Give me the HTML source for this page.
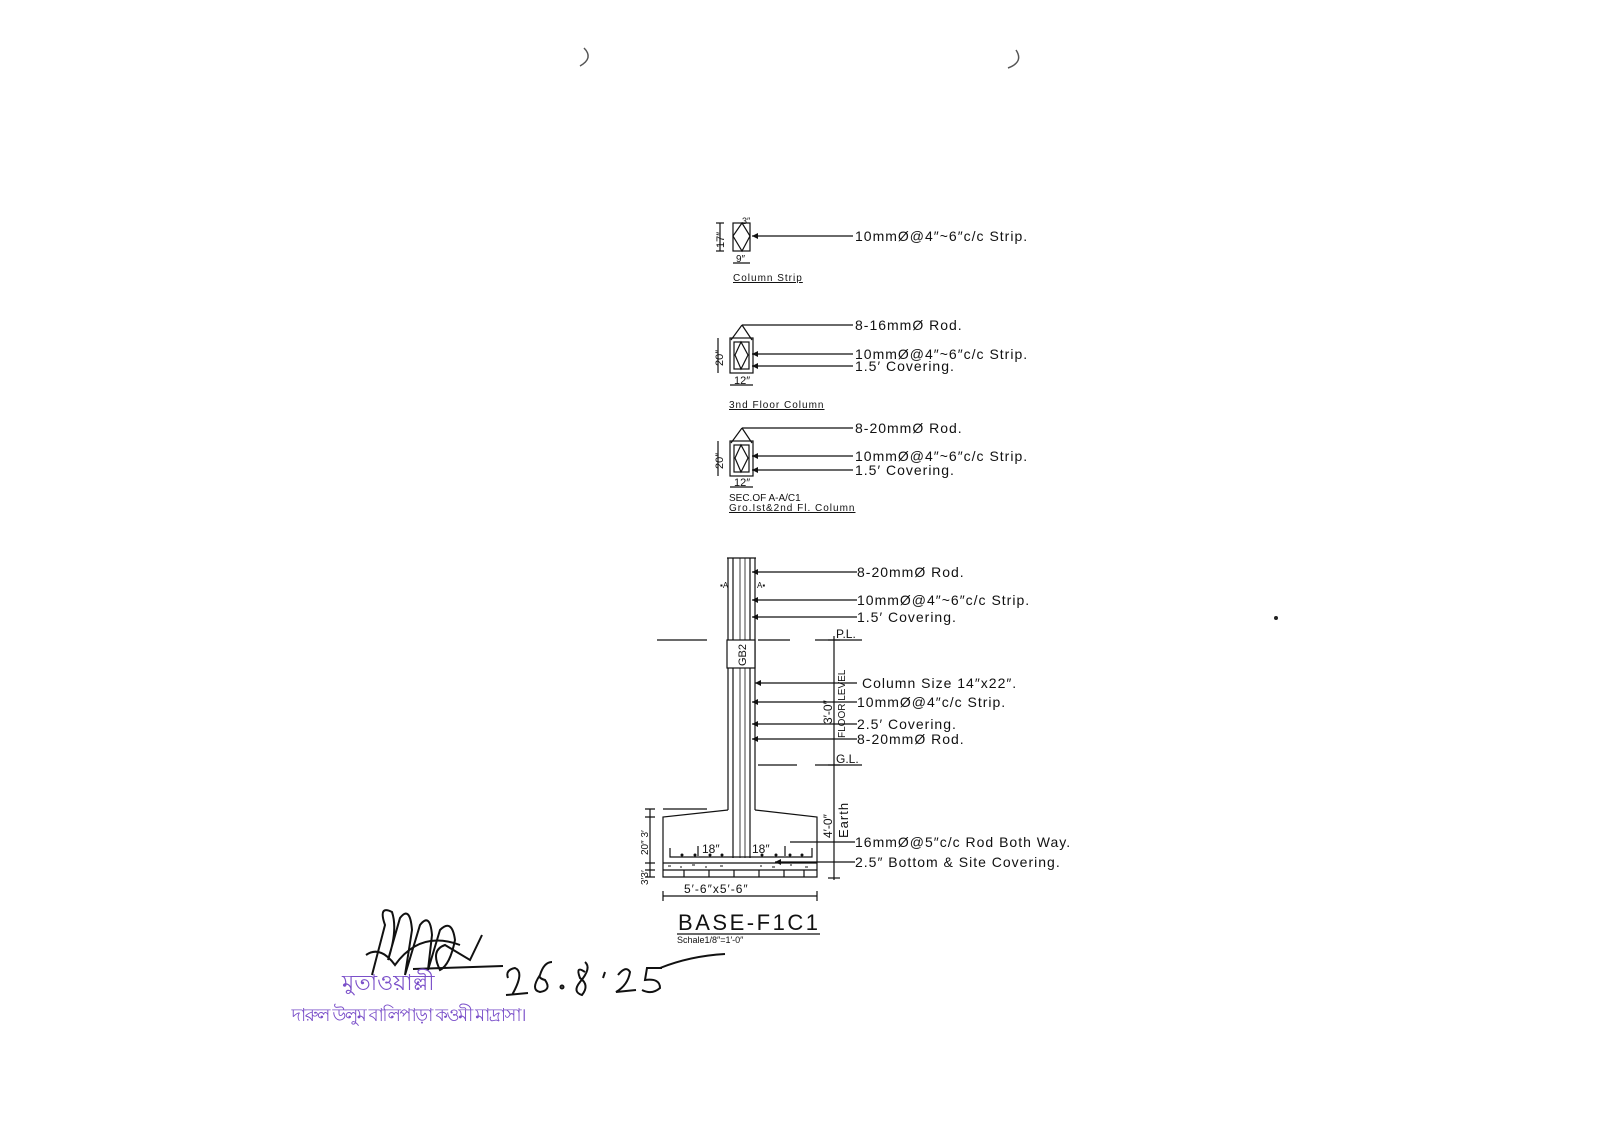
<!DOCTYPE html>
<html><head><meta charset="utf-8"><style>
html,body{margin:0;padding:0;background:#fff;}
svg{display:block;}
text{font-family:"Liberation Sans",sans-serif;fill:#111;}
.lb{letter-spacing:1px;}
</style></head><body>
<svg width="1600" height="1131" viewBox="0 0 1600 1131" xmlns="http://www.w3.org/2000/svg">
<defs>
<marker id="ar" viewBox="0 0 10 10" refX="0" refY="5" markerWidth="9" markerHeight="5" orient="auto"><path d="M0,5 L10,0 L10,10 Z" fill="#111"/></marker>
</defs>
<rect width="1600" height="1131" fill="#fff"/>
<path d="M584,48 Q594,58 580,66" stroke="#555" fill="none" stroke-width="1.5"/>
<path d="M1016,50 Q1024,62 1008,68" stroke="#555" fill="none" stroke-width="1.5"/>
<circle cx="1276" cy="618" r="2" fill="#222"/>
<g stroke="#111" stroke-width="1.2" fill="none">
<rect x="733" y="223" width="17" height="28"/>
<path d="M742,223 L733,236 L742,251 L750,236 Z"/>
<line x1="720" y1="223" x2="720" y2="251"/><line x1="716" y1="223" x2="724" y2="223"/><line x1="716" y1="251" x2="724" y2="251"/>
<line x1="733" y1="263" x2="750" y2="263"/>
<line x1="752" y1="236" x2="853" y2="236" marker-start="url(#ar)"/>
<rect x="730" y="338" width="23" height="35"/>
<rect x="734" y="342" width="15" height="27"/>
<path d="M741,342 L735,355 L741,369 L748,355 Z"/>
<path d="M742,325 L731,340 M742,325 L752,340 M742,325 L853,325"/>
<line x1="718" y1="338" x2="718" y2="373"/>
<line x1="730" y1="385" x2="753" y2="385"/>
<line x1="752" y1="354" x2="853" y2="354" marker-start="url(#ar)"/>
<line x1="752" y1="366" x2="853" y2="366" marker-start="url(#ar)"/>
<rect x="730" y="441" width="23" height="35"/>
<rect x="734" y="445" width="15" height="27"/>
<path d="M741,445 L735,458 L741,472 L748,458 Z"/>
<path d="M742,428 L731,443 M742,428 L752,443 M742,428 L853,428"/>
<line x1="718" y1="441" x2="718" y2="476"/>
<line x1="730" y1="487" x2="753" y2="487"/>
<line x1="752" y1="456" x2="853" y2="456" marker-start="url(#ar)"/>
<line x1="752" y1="470" x2="853" y2="470" marker-start="url(#ar)"/>
<line x1="727" y1="558" x2="756" y2="558"/>
<line x1="728" y1="558" x2="728" y2="810"/>
<line x1="755" y1="558" x2="755" y2="810"/>
<line x1="733" y1="558" x2="733" y2="858"/>
<line x1="750" y1="558" x2="750" y2="858"/>
<line x1="740" y1="558" x2="740" y2="858" stroke-width="0.8"/>
<line x1="745" y1="558" x2="745" y2="858" stroke-width="0.8"/>
<rect x="727" y="640" width="28" height="28" fill="#fff"/>
<line x1="752" y1="572" x2="857" y2="572" marker-start="url(#ar)"/>
<line x1="752" y1="600" x2="857" y2="600" marker-start="url(#ar)"/>
<line x1="752" y1="617" x2="857" y2="617" marker-start="url(#ar)"/>
<line x1="657" y1="640" x2="707" y2="640"/><line x1="758" y1="640" x2="790" y2="640"/><line x1="815" y1="640" x2="862" y2="640"/>
<line x1="834" y1="636" x2="834" y2="880"/>
<line x1="828" y1="640" x2="840" y2="640"/><line x1="828" y1="765" x2="840" y2="765"/><line x1="828" y1="878" x2="840" y2="878"/>
<line x1="755" y1="683" x2="857" y2="683" marker-start="url(#ar)"/>
<line x1="752" y1="702" x2="857" y2="702" marker-start="url(#ar)"/>
<line x1="752" y1="724" x2="857" y2="724" marker-start="url(#ar)"/>
<line x1="752" y1="739" x2="857" y2="739" marker-start="url(#ar)"/>
<line x1="758" y1="765" x2="797" y2="765"/><line x1="815" y1="765" x2="862" y2="765"/>
<path d="M728,810 L663,817 L663,877 L817,877 L817,817 L755,810"/>
<line x1="663" y1="809" x2="707" y2="809"/>
<line x1="663" y1="863" x2="817" y2="863"/>
<line x1="663" y1="870" x2="817" y2="870"/>
<path d="M670,848 L670,857 L812,857 L812,848"/>
<path d="M684,870 v7 M709,870 v7 M734,870 v7 M759,870 v7 M784,870 v7 M804,870 v7"/>
<path d="M698,846 v10 M785,846 v10"/>
<line x1="790" y1="842" x2="855" y2="842"/>
<line x1="775" y1="862" x2="855" y2="862" marker-start="url(#ar)"/>
<line x1="650" y1="809" x2="650" y2="877"/>
<path d="M645,809 h10 M645,817 h10 M645,863 h10 M645,870 h10 M645,877 h10"/>
<line x1="663" y1="896" x2="817" y2="896"/>
<path d="M663,891 v10 M817,891 v10"/>
<line x1="677" y1="934" x2="820" y2="934"/>
<path d="M668,866 h3 M680,867 h2 M692,865 h3 M705,867 h2 M720,866 h3 M760,866 h2 M772,867 h3 M790,865 h2 M805,867 h3" stroke-width="1"/>
</g>
<g fill="#111">
<circle cx="682" cy="855" r="1.5"/><circle cx="695" cy="855" r="1.5"/><circle cx="710" cy="855" r="1.5"/><circle cx="722" cy="855" r="1.5"/><circle cx="762" cy="855" r="1.5"/><circle cx="776" cy="855" r="1.5"/><circle cx="790" cy="855" r="1.5"/><circle cx="802" cy="855" r="1.5"/>
</g>
<g font-size="14" class="lb">
<text x="855" y="241">10mmØ@4″~6″c/c Strip.</text>
<text x="855" y="330">8-16mmØ Rod.</text>
<text x="855" y="359">10mmØ@4″~6″c/c Strip.</text>
<text x="855" y="371">1.5′ Covering.</text>
<text x="855" y="433">8-20mmØ Rod.</text>
<text x="855" y="461">10mmØ@4″~6″c/c Strip.</text>
<text x="855" y="475">1.5′ Covering.</text>
<text x="857" y="577">8-20mmØ Rod.</text>
<text x="857" y="605">10mmØ@4″~6″c/c Strip.</text>
<text x="857" y="622">1.5′ Covering.</text>
<text x="862" y="688">Column Size 14″x22″.</text>
<text x="857" y="707">10mmØ@4″c/c Strip.</text>
<text x="857" y="729">2.5′ Covering.</text>
<text x="857" y="744">8-20mmØ Rod.</text>
<text x="855" y="847">16mmØ@5″c/c Rod Both Way.</text>
<text x="855" y="867">2.5″ Bottom &amp; Site Covering.</text>
</g>
<g font-size="12">
<text x="836" y="638">P.L.</text>
<text x="836" y="763">G.L.</text>
<text x="684" y="893" class="lb">5′-6″x5′-6″</text>
<text x="702" y="853" font-size="12">18″</text><text x="752" y="853" font-size="12">18″</text>
<text transform="translate(746,666) rotate(-90)" font-size="11">GB2</text>
<text transform="translate(832,724) rotate(-90)">3′-0″</text>
<text transform="translate(845,738) rotate(-90)" font-size="10">FLOOR LEVEL</text>
<text transform="translate(832,838) rotate(-90)">4′-0″</text>
<text transform="translate(848,838) rotate(-90)" font-size="13" class="lb">Earth</text>
<text transform="translate(648,885) rotate(-90)" font-size="10">3′3′</text>
<text transform="translate(648,855) rotate(-90)" font-size="10">20″ 3′</text>
<text transform="translate(724,248) rotate(-90)" font-size="11">17″</text>
<text transform="translate(723,366) rotate(-90)" font-size="11">20″</text>
<text transform="translate(723,469) rotate(-90)" font-size="11">20″</text>
<text x="736" y="262" font-size="10">9″</text>
<text x="734" y="384" font-size="11">12″</text>
<text x="734" y="486" font-size="11">12″</text>
<text x="742" y="224" font-size="9">3″</text>
<text x="720" y="588" font-size="8">▪A</text><text x="757" y="588" font-size="8">A▪</text>
</g>
<g font-size="10">
<text x="733" y="281" text-decoration="underline" class="lb">Column Strip</text>
<text x="729" y="408" text-decoration="underline" class="lb">3nd Floor Column</text>
<text x="729" y="501">SEC.OF A-A/C1</text>
<text x="729" y="511" text-decoration="underline" class="lb">Gro.Ist&amp;2nd Fl. Column</text>
<text x="677" y="943" font-size="9">Schale1/8″=1′-0″</text>
</g>
<text x="678" y="930" font-size="22" textLength="140" style="font-weight:300">BASE-F1C1</text>
<g stroke="#111" stroke-width="2" fill="none">
<path d="M372,975 L385,925 Q378,905 392,912 Q398,930 388,960 L400,918 Q410,905 412,930 L405,975 L420,925 Q430,912 432,935 L428,970 L440,930 Q452,918 455,940 Q450,965 440,970 Q430,950 445,945 L470,960 L482,935"/>
<path d="M366,955 Q380,945 395,965 Q420,930 460,945"/>
<path d="M413,969 L503,966"/>
<path d="M512,995 Q525,972 515,968 Q505,970 508,978 M506,995 L528,993"/>
<path d="M540,975 Q530,990 540,992 Q552,990 545,980 Q538,978 540,975 Q544,962 552,962"/>
<circle cx="562" cy="987" r="1.5"/>
<path d="M585,972 Q575,965 580,978 Q590,985 582,995 Q572,992 580,982 Q592,968 585,962"/>
<path d="M605,972 L603,978"/>
<path d="M618,975 Q626,965 630,972 Q628,985 616,992 L636,990"/>
<path d="M662,968 L647,968 L645,980 Q660,978 660,988 Q652,995 642,990"/>
<path d="M660,968 Q690,956 725,954"/>
</g>
<text x="342" y="990" font-size="22" style="font-family:'Liberation Sans',sans-serif;fill:#7a4fc9">মুতাওয়াল্লী</text>
<text x="290" y="1021" font-size="18" style="font-family:'Liberation Sans',sans-serif;fill:#7a4fc9" textLength="235">দারুল উলুম বালিপাড়া কওমী মাদ্রাসা।</text>
</svg>
</body></html>
